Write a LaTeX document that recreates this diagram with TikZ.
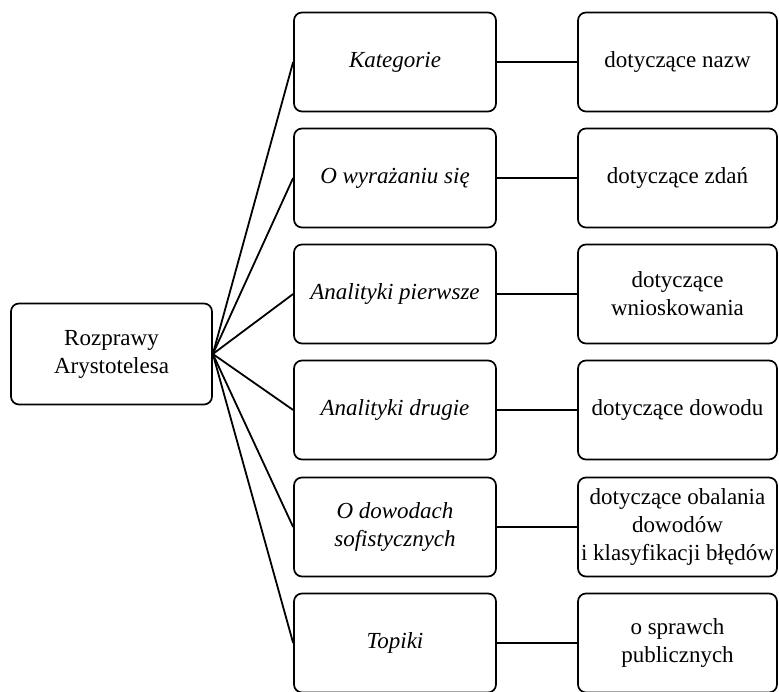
\documentclass[tikz,border=0pt]{standalone}
\usepackage{fontspec}
\setmainfont{Liberation Serif}
\begin{document}
\begin{tikzpicture}[x=1pt,y=1pt]
    \tikzset{box/.style = {shape=rectangle,draw,rounded corners=8pt,line width=1.7pt,align=center,inner sep=1pt,font=\fontsize{23}{28}\selectfont}}
    \tikzset{work/.style = {box,minimum width=202pt,minimum height=99pt,font=\fontsize{23}{28}\selectfont\itshape}}
    \tikzset{topic/.style = {box,minimum width=199pt,minimum height=99pt}}
    \tikzset{edge/.style = {line width=1.8pt}}
    \useasboundingbox (0,0) rectangle (779,692);
    % vertices
    \node[box,minimum width=201pt,minimum height=101pt] (R) at (111.5,338) {Rozprawy\\Arystotelesa};
    \node[work] (W1) at (395,630) {Kategorie};
    \node[work] (W2) at (395,514) {O wyrażaniu się};
    \node[work] (W3) at (395,398) {Analityki pierwsze};
    \node[work] (W4) at (395,282) {Analityki drugie};
    \node[work] (W5) at (395,165) {O dowodach\\sofistycznych};
    \node[work] (W6) at (395,49) {Topiki};
    \node[topic] (T1) at (677.5,630) {dotyczące nazw};
    \node[topic] (T2) at (677.5,514) {dotyczące zdań};
    \node[topic] (T3) at (677.5,398) {dotyczące\\wnioskowania};
    \node[topic] (T4) at (677.5,282) {dotyczące dowodu};
    \node[topic] (T5) at (677.5,165) {dotyczące obalania\\dowodów\\i klasyfikacji błędów};
    \node[topic] (T6) at (677.5,49) {o sprawch\\publicznych};
    %edges
    \foreach \i in {1,...,6} {
        \draw[edge] (R.east) to (W\i.west);
        \draw[edge] (W\i.east) to (T\i.west);
    }
\end{tikzpicture}
\end{document}
